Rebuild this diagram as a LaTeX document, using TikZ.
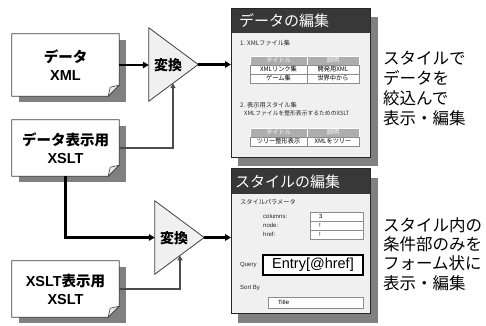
\documentclass[tikz,border=0pt]{standalone}
\usepackage{fontspec}
\setmainfont{Liberation Sans}
\newfontfamily\jp{Noto Sans CJK JP}
\usetikzlibrary{arrows.meta,calc}
\pgfdeclarelayer{bg}
\pgfsetlayers{bg,main}
\begin{document}
\begin{tikzpicture}[x=1pt,y=-1pt,
 docbox/.style={inner sep=0pt,minimum width=107pt,align=center,font=\bfseries\fontsize{14.5}{18}\selectfont},
 docshadow/.style={fill=black!50},
 docline/.style={draw=black!75,line width=0.8pt,fill=white},
 foldst/.style={draw=black!75,line width=0.6pt,fill=black!8},
 trbox/.style={inner sep=0pt,minimum width=49pt,minimum height=73pt},
 trshape/.style={draw=black!75,line width=0.8pt,fill=black!6},
 trtext/.style={inner sep=0pt,font=\jp\bfseries\fontsize{14}{16}\selectfont},
 mainarrow/.style={line width=2.4pt,-{Triangle[length=6pt,width=6.5pt]}},
 sidearrow/.style={draw=black!70,line width=1.2pt,-{Triangle[length=5pt,width=5pt]}},
 win/.style={inner sep=0pt,draw=black!85,line width=1pt,fill=black!6,minimum width=138.5pt},
 winborder/.style={draw=black!85,line width=1pt},
 winshadow/.style={fill=black!50},
 titlebar/.style={fill=black!78},
 wintitle/.style={anchor=west,text=white,font=\jp\fontsize{15}{16}\selectfont,inner sep=0pt},
 small/.style={anchor=west,font=\jp\fontsize{6.2}{7}\selectfont,inner sep=0pt,text=black!85},
 smalllat/.style={anchor=west,font=\fontsize{6}{7}\selectfont,inner sep=0pt,text=black!85},
 hcell/.style={fill=black!32,draw=white,line width=0.6pt,text=white,minimum height=9pt,inner sep=0pt,font=\jp\fontsize{6.2}{7}\selectfont},
 rcell/.style={fill=white,draw=black!45,line width=0.5pt,minimum height=9pt,inner sep=0pt,font=\jp\fontsize{6.2}{7}\selectfont},
 ibox/.style={fill=white,draw=black!45,line width=0.5pt,minimum height=9pt,minimum width=53pt,text width=35pt,inner xsep=9pt,inner ysep=0pt,align=left,font=\fontsize{6}{7}\selectfont},
 qbox/.style={fill=white,draw=black,line width=1.1pt,minimum height=20pt,minimum width=100pt,inner sep=0pt,font=\fontsize{14.5}{16}\selectfont},
 sbox/.style={fill=white,draw=black!45,line width=0.5pt,minimum height=11pt,minimum width=95pt,text width=75pt,inner xsep=10pt,inner ysep=0pt,align=left,font=\fontsize{6}{7}\selectfont},
 rtext/.style={anchor=west,align=left,inner sep=0pt,font=\jp\fontsize{16.5}{20}\selectfont}
]
\useasboundingbox (0,0) rectangle (486,325);

% documents
\node[docbox,minimum height=62pt] (d1) at (65.5,65) {{\jp データ}\\XML};
\node[docbox,minimum height=56pt] (d2) at (65.5,148) {{\jp データ表示用}\\XSLT};
\node[docbox,minimum height=56pt] (d3) at (65.5,289) {XSLT{\jp 表示用}\\XSLT};

\begin{pgfonlayer}{bg}
 \fill[white] (0,0) rectangle (486,325);
 \foreach \d in {d1,d2,d3}{
  \fill[docshadow] ([shift={(7pt,-6pt)}]\d.north west) rectangle ([shift={(7pt,-6pt)}]\d.south east);
  \path[docline] (\d.north west) -- (\d.north east) -- ([yshift=11pt]\d.south east) -- ([xshift=-11pt]\d.south east) -- (\d.south west) -- cycle;
  \path[foldst] ([yshift=11pt]\d.south east) -- ([shift={(-9pt,9pt)}]\d.south east) -- ([xshift=-11pt]\d.south east) -- cycle;
 }
\end{pgfonlayer}

% windows
\node[win,minimum height=148pt] (w1) at (300.75,83) {};
\node[win,minimum height=144pt] (w2) at (300.75,241) {};
\begin{pgfonlayer}{bg}
 \fill[winshadow] ([shift={(7pt,-8pt)}]w1.north west) rectangle ([shift={(7pt,-8pt)}]w1.south east);
 \fill[winshadow] ([shift={(7pt,-9pt)}]w2.north west) rectangle ([shift={(7pt,-9pt)}]w2.south east);
\end{pgfonlayer}
\fill[titlebar] (w1.north west) rectangle ([yshift=-24pt]w1.north east);
\fill[titlebar] (w2.north west) rectangle ([yshift=-25pt]w2.north east);
\draw[winborder] (w1.north west) rectangle (w1.south east);
\draw[winborder] (w2.north west) rectangle (w2.south east);
\node[wintitle] (wt1) at (239,21) {データの編集};
\node[wintitle] (wt2) at (235,181.5) {スタイルの編集};

% window 1 content
\node[small] (s1) at (240,43) {1. XMLファイル集};
\node[hcell,minimum width=57pt] (a11) at (278.5,60.5) {タイトル};
\node[hcell,minimum width=52pt] (a12) at (333,60.5) {説明};
\node[rcell,minimum width=57pt] (a21) at (278.5,69.5) {XMLリンク集};
\node[rcell,minimum width=52pt] (a22) at (333,69.5) {開発用XML};
\node[rcell,minimum width=57pt] (a31) at (278.5,78.5) {ゲーム集};
\node[rcell,minimum width=52pt] (a32) at (333,78.5) {世界中から};
\node[small] (s2) at (240,105) {2. 表示用スタイル集};
\node[small,font=\jp\fontsize{5.8}{7}\selectfont] (s3) at (244,113.5) {XMLファイルを整形表示するためのXSLT};
\node[hcell,minimum width=57pt] (b11) at (278.5,132.5) {タイトル};
\node[hcell,minimum width=52pt] (b12) at (333,132.5) {説明};
\node[rcell,minimum width=57pt] (b21) at (278.5,141.5) {ツリー整形表示};
\node[rcell,minimum width=52pt] (b22) at (333,141.5) {XMLをツリー};

% window 2 content
\node[small] (p0) at (240,202) {スタイルパラメータ};
\node[smalllat] (l1) at (263,216.5) {columns:};
\node[smalllat] (l2) at (263,225.5) {node:};
\node[smalllat] (l3) at (263,234.5) {href:};
\node[ibox] (i1) at (336.5,216.5) {3};
\node[ibox] (i2) at (336.5,225.5) {!};
\node[ibox] (i3) at (336.5,234.5) {!};
\node[smalllat] (q0) at (240,265) {Query};
\node[qbox] (q1) at (313,265) {Entry[@href]};
\node[smalllat] (o0) at (240,288) {Sort By};
\node[sbox] (o1) at (315.5,302.5) {Title};

% transforms
\node[trbox] (tr1) at (173.5,64.5) {};
\path[trshape] (tr1.north west) -- (tr1.east) -- (tr1.south west) -- cycle;
\node[trtext] (v1) at (168,65) {変換};
\node[trbox] (tr2) at (179.5,237.5) {};
\path[trshape] (tr2.north west) -- (tr2.east) -- (tr2.south west) -- cycle;
\node[trtext] (v2) at (174,238) {変換};

% connectors
\coordinate (in1) at ($(tr1.south west)!0.49!(tr1.east)$);
\coordinate (in2) at ($(tr2.south west)!0.51!(tr2.east)$);
\draw[mainarrow] (d1.east) -- (d1.east -| tr1.west);
\draw[sidearrow] (d2.east) -| (in1);
\draw[mainarrow] (tr1.east) -- (tr1.east -| w1.west);
\draw[mainarrow] (d2.south) |- (tr2.west);
\draw[sidearrow] (d3.east) -| (in2);
\draw[mainarrow] (tr2.east) -- (tr2.east -| w2.west);

% side texts
\node[rtext] (r1) at (383,88) {スタイルで\\データを\\絞込んで\\表示・編集};
\node[rtext,font=\jp\fontsize{16.5}{19.3}\selectfont] (r2) at (383,254) {スタイル内の\\条件部のみを\\フォーム状に\\表示・編集};
\end{tikzpicture}
\end{document}
